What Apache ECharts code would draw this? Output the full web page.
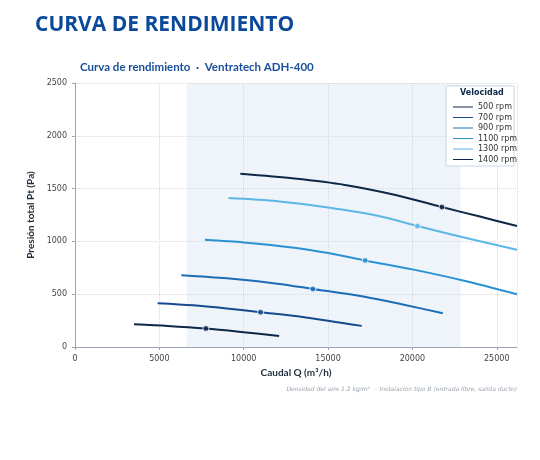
<!DOCTYPE html>
<html><head><meta charset="utf-8">
<script src="https://cdn.jsdelivr.net/npm/echarts@6/dist/echarts.min.js"></script>
<style>body{margin:0;background:#fff}#c{width:540px;height:460px}</style>
</head><body><div id="c"></div>
<script>
var speeds = ['500 rpm', '700 rpm', '900 rpm', '1100 rpm', '1300 rpm', '1400 rpm'];
var colors = ['#0c2747', '#164a8e', '#1c6cb6', '#2b92d2', '#5cb6e6', '#0c2747'];
var curves = [
  [[3500,215],[5500,200],[7760,175],[10000,140],[12100,104]],
  [[4900,415],[7000,395],[9000,365],[11000,330],[13500,285],[17000,200]],
  [[6300,680],[9000,650],[12000,600],[14100,550],[17000,480],[19500,400],[21800,320]],
  [[7700,1015],[10000,990],[13000,940],[15000,890],[17200,820],[20000,735],[23000,630],[26200,500]],
  [[9100,1410],[12000,1380],[15000,1320],[18000,1240],[20300,1145],[23000,1040],[26200,920]],
  [[9800,1640],[13000,1595],[16000,1535],[19000,1440],[21750,1325],[24000,1235],[26200,1145]]
];
var bestPoints = [[7760,175],[11000,330],[14100,550],[17200,820],[20300,1145],[21750,1325]];
var band = [6630, 22870];

var series = speeds.map(function (s, i) {
  return {
    name: s, type: 'line', data: curves[i], smooth: 0.3, symbol: 'none',
    lineStyle: {color: colors[i], width: 2}, itemStyle: {color: colors[i]}
  };
});
series.push({
  type: 'scatter', data: bestPoints, symbolSize: 6, z: 5,
  itemStyle: {color: function (p) { return colors[p.dataIndex]; }, borderColor: '#fff', borderWidth: 1}
});
series[0].markArea = {
  silent: true, itemStyle: {color: 'rgba(200,220,238,0.3)'},
  data: [[{xAxis: band[0]}, {xAxis: band[1]}]]
};

var chart = echarts.init(document.getElementById('c'));
chart.setOption({
  animation: false,
  title: [
    {text: 'CURVA DE RENDIMIENTO', left: 30, top: 10,
     textStyle: {fontFamily: 'Open Sans', fontWeight: 'bold', fontSize: 21, color: '#0b4a9b'}},
    {text: 'Curva de rendimiento  ·  Ventratech ADH-400', left: 75, top: 56,
     textStyle: {fontFamily: 'Lato', fontWeight: 'bold', fontSize: 11.5, color: '#1a4f9c'}},
    {text: 'Densidad del aire 1.2 kg/m³  ·  Instalación tipo B (entrada libre, salida ducto)', right: 18, top: 381,
     textStyle: {fontFamily: 'DejaVu Sans', fontStyle: 'italic', fontSize: 6, fontWeight: 'normal', color: '#9aa3ad'}}
  ],
  graphic: [
    {type: 'rect', shape: {x: 446, y: 86, width: 68, height: 80},
     style: {fill: '#fff', stroke: '#c9d6ea', lineWidth: 1}, z: 10},
    {type: 'text', left: 460, top: 89, z: 11,
     style: {text: 'Velocidad', font: 'bold 8px DejaVu Sans', fill: '#0c2747'}}
  ],
  legend: {
    data: speeds, orient: 'vertical', left: 448, top: 98, itemGap: 2.5, z: 12,
    itemWidth: 20, itemHeight: 8, icon: 'path://M0,3.5L20,3.5L20,4.5L0,4.5Z',
    textStyle: {fontFamily: 'DejaVu Sans', fontSize: 8, color: '#333'}
  },
  grid: {left: 75, right: 23, top: 83, bottom: 113},
  xAxis: {
    type: 'value', min: 0, max: 26200, interval: 5000,
    name: 'Caudal Q (m³/h)', nameLocation: 'middle', nameGap: 20,
    nameTextStyle: {fontFamily: 'Lato', fontWeight: 'bold', fontSize: 10, color: '#1f2d3d'},
    axisLine: {lineStyle: {color: '#9aa5b8'}}, axisTick: {show: true, length: 3},
    axisLabel: {fontFamily: 'DejaVu Sans', fontSize: 8, color: '#444', showMaxLabel: false,
      formatter: function (v) { return String(v); }},
    splitLine: {lineStyle: {type: 'dotted', color: '#d5dbe4'}}
  },
  yAxis: {
    type: 'value', min: 0, max: 2500, interval: 500,
    name: 'Presión total Pt (Pa)', nameLocation: 'middle', nameGap: 30,
    nameTextStyle: {fontFamily: 'Lato', fontWeight: 'bold', fontSize: 10, color: '#1f2d3d'},
    axisLine: {show: true, lineStyle: {color: '#9aa5b8'}}, axisTick: {show: true, length: 3},
    axisLabel: {fontFamily: 'DejaVu Sans', fontSize: 8, color: '#444',
      formatter: function (v) { return String(v); }},
    splitLine: {lineStyle: {type: 'dotted', color: '#d5dbe4'}}
  },
  series: series
});
</script></body></html>
